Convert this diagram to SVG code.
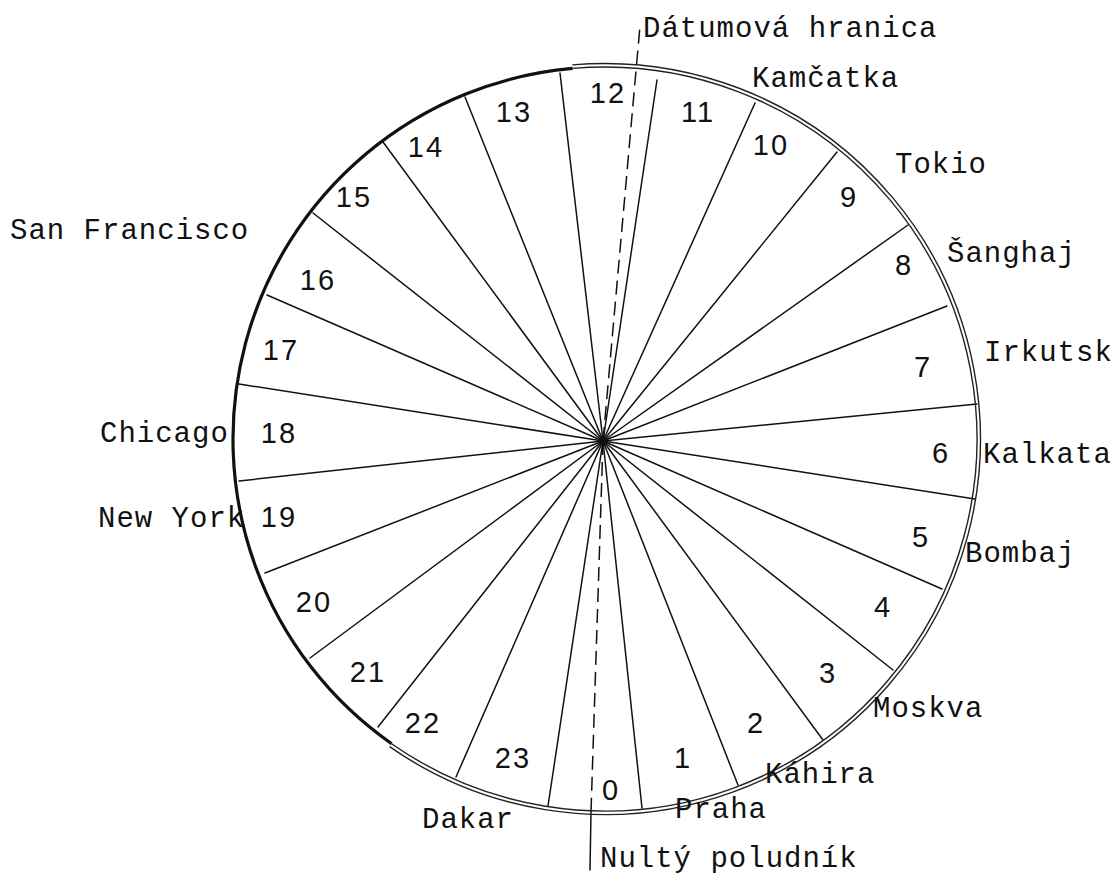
<svg xmlns="http://www.w3.org/2000/svg" width="1112" height="874" viewBox="0 0 1112 874">
<style>
.bg{fill:#fff}
.spoke{stroke:#111;stroke-width:1.5;fill:none;stroke-linecap:round}
.dash{stroke:#111;stroke-width:1.5;fill:none;stroke-dasharray:14 7}
.thick{stroke:#111;stroke-width:3.2;fill:none}
.thin{stroke:#222;stroke-width:1.4;fill:none}
.num{font-family:"Liberation Sans",Arial,sans-serif;font-size:29px;fill:#111;text-anchor:middle;letter-spacing:2px}
.city{font-family:"Liberation Mono","Courier New",monospace;font-size:29px;fill:#111;letter-spacing:1px}
</style>
<rect class="bg" x="0" y="0" width="1112" height="874"/>
<g id="connectors">
<line class="spoke" x1="603" y1="441" x2="560" y2="73"/>
<line class="spoke" x1="603" y1="441" x2="657" y2="80"/>
<line class="spoke" x1="603" y1="441" x2="755" y2="103"/>
<line class="spoke" x1="603" y1="441" x2="837" y2="152"/>
<line class="spoke" x1="603" y1="441" x2="908" y2="225"/>
<line class="spoke" x1="603" y1="441" x2="947" y2="306"/>
<line class="spoke" x1="603" y1="441" x2="977" y2="404"/>
<line class="spoke" x1="603" y1="441" x2="975" y2="499"/>
<line class="spoke" x1="603" y1="441" x2="942" y2="589"/>
<line class="spoke" x1="603" y1="441" x2="893" y2="670"/>
<line class="spoke" x1="603" y1="441" x2="823" y2="740"/>
<line class="spoke" x1="603" y1="441" x2="738" y2="785"/>
<line class="spoke" x1="603" y1="441" x2="642" y2="808"/>
<line class="spoke" x1="603" y1="441" x2="548" y2="806"/>
<line class="spoke" x1="603" y1="441" x2="456" y2="777"/>
<line class="spoke" x1="603" y1="441" x2="378" y2="727"/>
<line class="spoke" x1="603" y1="441" x2="310" y2="658"/>
<line class="spoke" x1="603" y1="441" x2="265" y2="573"/>
<line class="spoke" x1="603" y1="441" x2="239" y2="481"/>
<line class="spoke" x1="603" y1="441" x2="239" y2="384"/>
<line class="spoke" x1="603" y1="441" x2="267" y2="295"/>
<line class="spoke" x1="603" y1="441" x2="313" y2="213"/>
<line class="spoke" x1="603" y1="441" x2="383" y2="142"/>
<line class="spoke" x1="603" y1="441" x2="465" y2="97"/>
<line class="dash" x1="603" y1="441" x2="640" y2="26"/>
<line class="dash" x1="603" y1="441" x2="591" y2="812"/>
<line class="spoke" x1="591" y1="812" x2="590" y2="870"/>
</g>
<g id="dial">
<path class="thick" d="M391.6,743.7 A372,372 0 0 1 572.6,68.4"/>
<path class="thin" d="M572.6,68.4 A372,372 0 1 1 391.6,743.7"/>
<path class="thin" d="M572.3,64.9 A375.5,375.5 0 1 1 389.6,746.6"/>
</g>
<g id="hours">
<text class="num" x="608" y="103">12</text>
<text class="num" x="698" y="122">11</text>
<text class="num" x="771" y="155">10</text>
<text class="num" x="849" y="207">9</text>
<text class="num" x="904" y="275">8</text>
<text class="num" x="923" y="377">7</text>
<text class="num" x="941" y="463">6</text>
<text class="num" x="921" y="547">5</text>
<text class="num" x="883" y="617">4</text>
<text class="num" x="828" y="683">3</text>
<text class="num" x="756" y="733">2</text>
<text class="num" x="683" y="768">1</text>
<text class="num" x="611" y="800">0</text>
<text class="num" x="513" y="768">23</text>
<text class="num" x="423" y="733">22</text>
<text class="num" x="368" y="682">21</text>
<text class="num" x="314" y="612">20</text>
<text class="num" x="279" y="527">19</text>
<text class="num" x="279" y="443">18</text>
<text class="num" x="281" y="360">17</text>
<text class="num" x="318" y="290">16</text>
<text class="num" x="354" y="207">15</text>
<text class="num" x="426" y="157">14</text>
<text class="num" x="514" y="122">13</text>
</g>
<g id="cities">
<text class="city" x="643" y="37">Dátumová hranica</text>
<text class="city" x="752" y="87">Kamčatka</text>
<text class="city" x="895" y="173">Tokio</text>
<text class="city" x="947" y="262">Šanghaj</text>
<text class="city" x="984" y="361">Irkutsk</text>
<text class="city" x="983" y="463">Kalkata</text>
<text class="city" x="965" y="562">Bombaj</text>
<text class="city" x="873" y="717">Moskva</text>
<text class="city" x="765" y="783">Káhira</text>
<text class="city" x="675" y="818">Praha</text>
<text class="city" x="422" y="828">Dakar</text>
<text class="city" x="600" y="867">Nultý poludník</text>
<text class="city" x="10" y="239">San Francisco</text>
<text class="city" x="100" y="442">Chicago</text>
<text class="city" x="98" y="527">New York</text>
</g>
</svg>
